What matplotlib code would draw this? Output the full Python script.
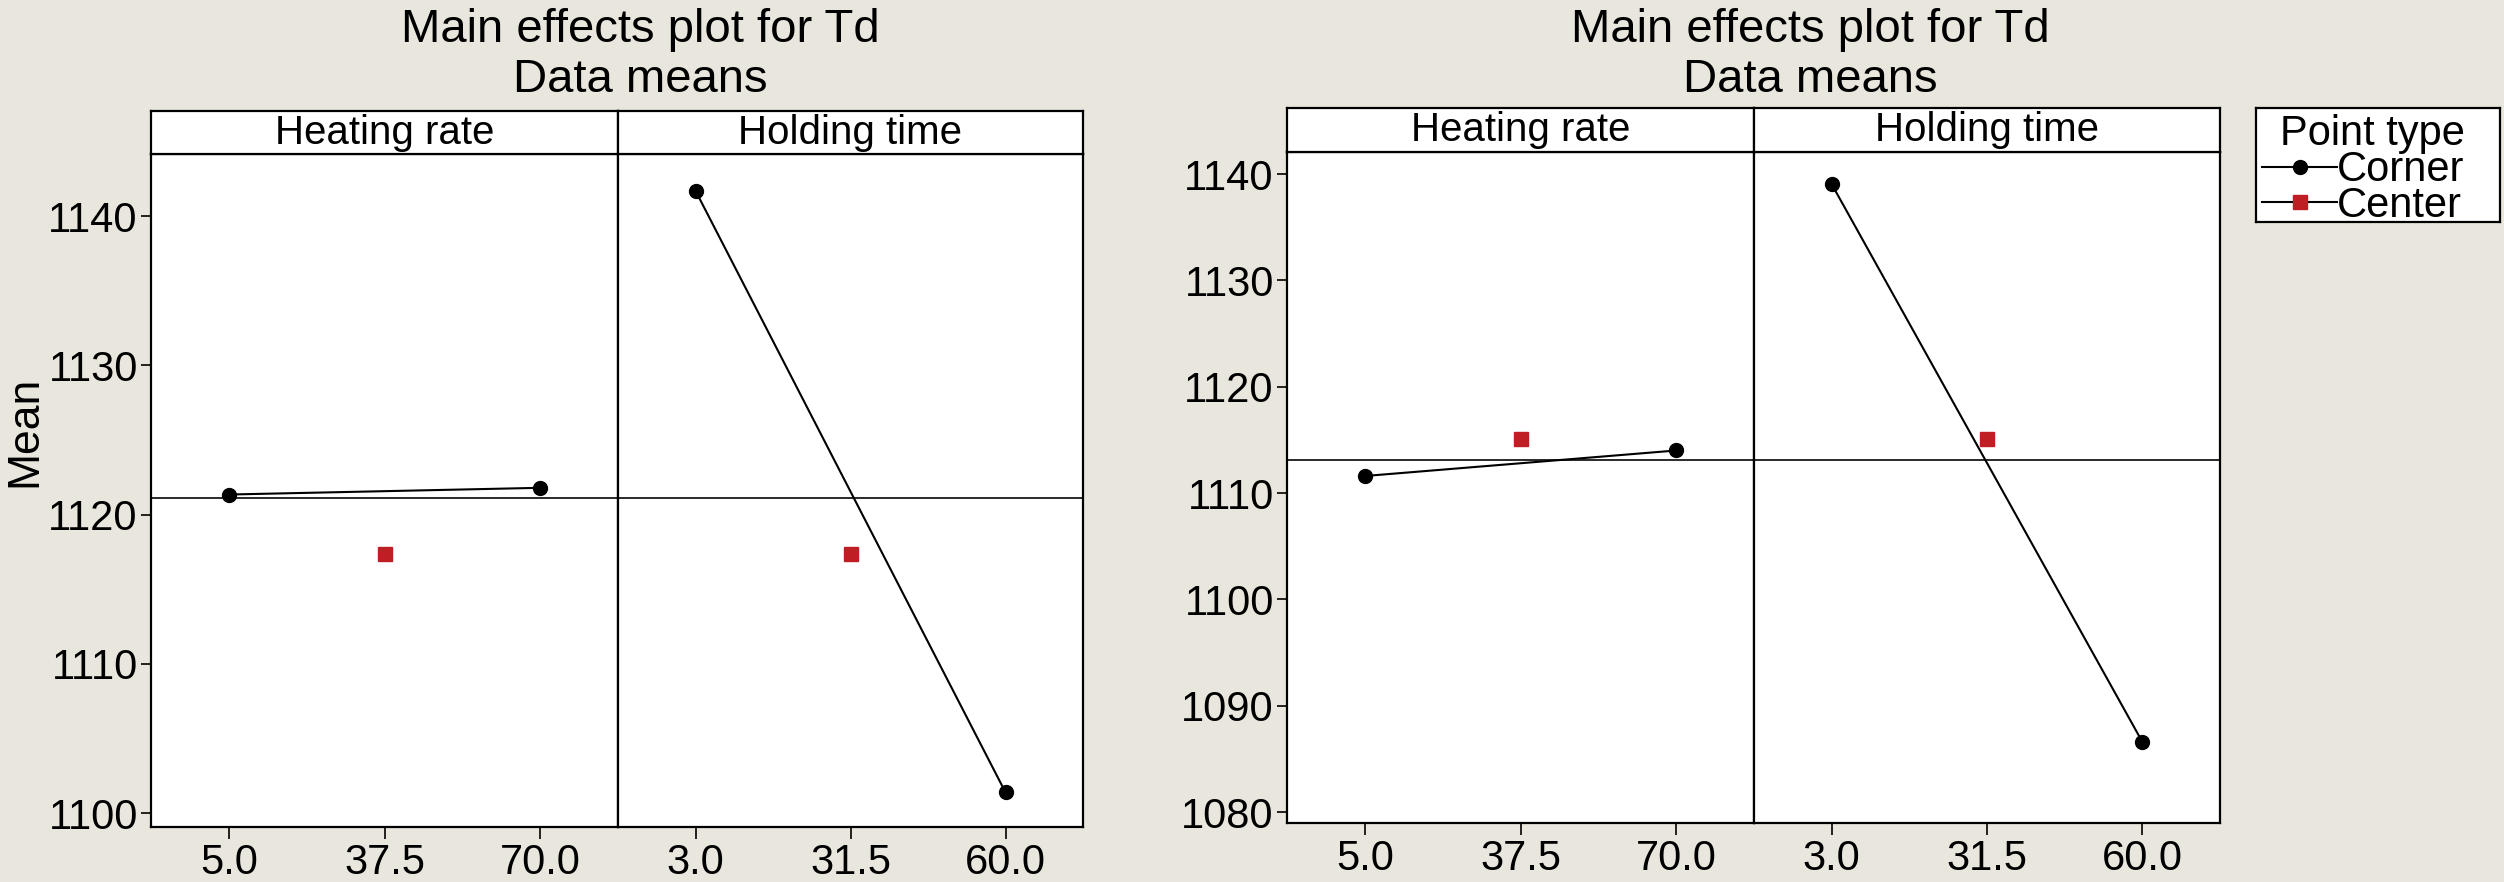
import matplotlib
matplotlib.use("Agg")
import matplotlib.pyplot as plt
from matplotlib.lines import Line2D

plt.rcParams["font.family"] = ["Liberation Sans", "DejaVu Sans"]

# factor levels (shown as tick labels)
heat_levels = ["5.0", "37.5", "70.0"]
hold_levels = ["3.0", "31.5", "60.0"]
corner_pos = [0, 2]
center_pos = [1]

# left graph: data means
left_heat_corner = [1121.35, 1121.8]
left_heat_center = [1117.4]
left_hold_corner = [1141.7, 1101.4]
left_hold_center = [1117.4]
left_grand_mean = 1121.15
left_yticks = [1100, 1110, 1120, 1130, 1140]

# right graph: data means
right_heat_corner = [1111.6, 1114.0]
right_heat_center = [1115.1]
right_hold_corner = [1139.05, 1086.6]
right_hold_center = [1115.1]
right_grand_mean = 1113.1
right_yticks = [1080, 1090, 1100, 1110, 1120, 1130, 1140]

panel_titles = ["Heating rate", "Holding time"]
point_types = ["Corner", "Center"]

BG = "#E9E7DD"
RED = "#BE1E24"
W, H = 2504, 882
FS = 30


def rect(x0, y0, x1, y1):
    # pixel box (top-left origin) -> figure fraction
    return [x0 / W, 1 - y1 / H, (x1 - x0) / W, (y1 - y0) / H]


def frame(ax, lw=1.6):
    for sp in ax.spines.values():
        sp.set_color("black")
        sp.set_linewidth(lw)


fig = plt.figure(figsize=(W / 100, H / 100), dpi=100, facecolor=BG)

graphs = [
    dict(xs=(151, 618, 1083), strip=(111, 154), bottom=827, ylim=(1099.08, 1144.16),
         yticks=left_yticks, mean=left_grand_mean,
         corner=[left_heat_corner, left_hold_corner],
         center=[left_heat_center, left_hold_center], title_x=640),
    dict(xs=(1287, 1754, 2220), strip=(108, 152), bottom=823, ylim=(1078.97, 1142.07),
         yticks=right_yticks, mean=right_grand_mean,
         corner=[right_heat_corner, right_hold_corner],
         center=[right_heat_center, right_hold_center], title_x=1810),
]

for g in graphs:
    x0, xm, x1 = g["xs"]
    s_top, s_bot = g["strip"]
    for i, (a, b) in enumerate([(x0, xm), (xm, x1)]):
        ax = fig.add_axes(rect(a, s_bot, b, g["bottom"]))
        ax.set_facecolor("white")
        ax.axhline(g["mean"], color="#2a2a2a", lw=1.4, zorder=1)
        ax.plot(corner_pos, g["corner"][i], color="black", lw=1.5,
                marker="o", ms=10, zorder=3)
        ax.plot(center_pos, g["center"][i], ls="none", marker="s", ms=10,
                color=RED, zorder=3)
        ax.set_xlim(-0.5, 2.5)
        ax.set_ylim(*g["ylim"])
        ax.set_xticks(range(3))
        ax.set_xticklabels(heat_levels if i == 0 else hold_levels)
        ax.tick_params(axis="x", direction="out", length=8.5, width=1.2,
                       labelsize=FS, pad=3)
        ax.set_yticks(g["yticks"])
        if i == 0:
            ax.tick_params(axis="y", direction="out", length=7, width=1.2,
                           labelsize=FS, pad=2.5)
        else:
            ax.tick_params(axis="y", left=False, labelleft=False)
        frame(ax)

        st = fig.add_axes(rect(a, s_top, b, s_bot))
        st.set_facecolor("white")
        st.set_xticks([])
        st.set_yticks([])
        frame(st)
        st.text(0.5, 0.24, panel_titles[i], ha="center", va="baseline",
                fontsize=29, transform=st.transAxes)

    fig.text(g["title_x"] / W, 1 - 42 / H, "Main effects plot for Td",
             ha="center", va="baseline", fontsize=34)
    fig.text(g["title_x"] / W, 1 - 92 / H, "Data means",
             ha="center", va="baseline", fontsize=34)

fig.text(25 / W, 1 - 431 / H, "Mean", rotation=90, ha="center", va="center",
         fontsize=32)

# legend in its own boxed area
lax = fig.add_axes(rect(2256, 108, 2500, 222))
lax.set_facecolor("white")
lax.set_xticks([])
lax.set_yticks([])
frame(lax)
handles = [
    Line2D([], [], color="black", lw=1.5, marker="o", ms=10),
    Line2D([], [], color="black", lw=1.5, marker="s", ms=10,
           markerfacecolor=RED, markeredgecolor=RED),
]
lax.legend(handles, point_types, title="Point type", loc="upper left",
           fontsize=FS, title_fontsize=FS, frameon=False,
           borderpad=0.15, borderaxespad=0, labelspacing=-0.1,
           handlelength=1.8, handletextpad=0.0, alignment="right")

fig.savefig("out.png", dpi=100, facecolor=BG)
